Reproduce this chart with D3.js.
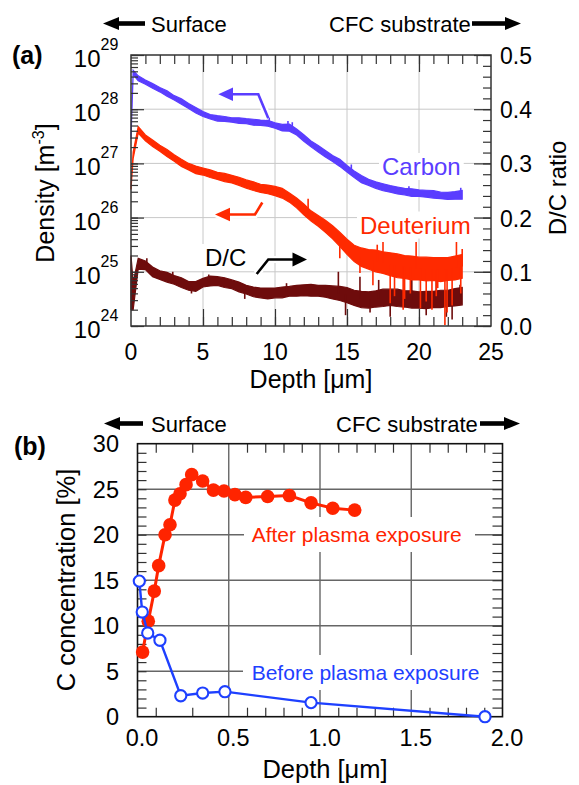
<!DOCTYPE html>
<html><head><meta charset="utf-8">
<script src="https://cdn.jsdelivr.net/npm/d3@7/dist/d3.min.js"></script>
<style>body{margin:0;background:#fff}</style>
</head><body><svg id="c" width="579" height="785"></svg>
<script>
// ---------- Panel (a) data ----------
const depthA = [0, 0.15, 0.5,
  1, 1.5, 2, 2.5, 3, 3.5, 4, 4.5,
  5, 5.5, 6, 6.5, 7, 7.5, 8, 8.5,
  9, 9.5, 10, 10.5, 11, 11.5, 12, 12.5,
  13, 13.5, 14, 14.5, 15, 15.5, 16, 16.5,
  17, 17.5, 18, 18.5, 19, 19.5, 20, 20.5,
  21, 21.5, 22, 22.5, 23];
// log10 of carbon density [m^-3]
const carbonLog = [27.47, 28.68, 28.57,
  28.50, 28.43, 28.36, 28.29, 28.21, 28.14, 28.06, 27.98,
  27.91, 27.86, 27.83, 27.82, 27.80, 27.79, 27.78, 27.76,
  27.75, 27.74, 27.70, 27.66, 27.66, 27.58, 27.47, 27.36,
  27.27, 27.18, 27.09, 27.01, 26.90, 26.80, 26.71, 26.65,
  26.60, 26.56, 26.53, 26.50, 26.48, 26.46, 26.45, 26.44,
  26.43, 26.41, 26.40, 26.41, 26.42];
const carbonSpread = [0.02, 0.04, 0.045,
  0.04, 0.045, 0.04, 0.05, 0.04, 0.05, 0.045, 0.05,
  0.045, 0.04, 0.05, 0.045, 0.04, 0.05, 0.045, 0.055,
  0.05, 0.055, 0.05, 0.06, 0.065, 0.055, 0.06, 0.055,
  0.06, 0.06, 0.055, 0.065, 0.06, 0.06, 0.065, 0.055,
  0.06, 0.065, 0.06, 0.065, 0.06, 0.07, 0.06, 0.065,
  0.07, 0.06, 0.065, 0.07, 0.08];
const carbonSpikes = [[9.6, 27.86], [10.9, 27.78], [11.2, 27.76], [15.3, 26.98], [19.3, 26.58], [22.9, 26.55]];
// log10 of deuterium density [m^-3]
const deutLog = [26.55, 27.15, 27.62,
  27.47, 27.37, 27.28, 27.19, 27.10, 27.01, 26.94, 26.88,
  26.85, 26.81, 26.77, 26.74, 26.71, 26.67, 26.62, 26.58,
  26.54, 26.52, 26.49, 26.45, 26.37, 26.27, 26.15, 26.03,
  25.94, 25.84, 25.73, 25.60, 25.46, 25.34, 25.27, 25.23,
  25.20, 25.17, 25.14, 25.11, 25.09, 25.07, 25.06, 25.05,
  25.05, 25.04, 25.05, 25.07, 25.10];
const deutSpread = [0.03, 0.06, 0.06,
  0.055, 0.06, 0.055, 0.065, 0.06, 0.065, 0.06, 0.07,
  0.065, 0.07, 0.065, 0.075, 0.07, 0.075, 0.075, 0.08,
  0.075, 0.08, 0.085, 0.09, 0.085, 0.09, 0.1, 0.095,
  0.1, 0.11, 0.12, 0.13, 0.14, 0.15, 0.17, 0.18,
  0.2, 0.2, 0.21, 0.22, 0.21, 0.22, 0.21, 0.22,
  0.21, 0.22, 0.21, 0.22, 0.22];
const deutSpikes = [[12.3, 26.35], [14.3, 25.72], [14.5, 25.25], [15.9, 24.98], [16.8, 24.75], [17.1, 25.5],
  [17.5, 25.55], [18.0, 24.42], [18.3, 24.55], [18.9, 24.30], [19.0, 24.5], [19.4, 24.6], [19.8, 25.55],
  [20.1, 24.33], [20.5, 24.45], [20.9, 24.30], [21.2, 24.55], [21.3, 24.7], [21.8, 24.02], [21.95, 24.25],
  [22.3, 24.38], [22.6, 25.55], [22.9, 24.6], [23.0, 25.42]];
// D/C ratio
const dcRatio = [0.080, 0.055, 0.115,
  0.112, 0.100, 0.094, 0.090, 0.085, 0.080, 0.074, 0.073,
  0.080, 0.083, 0.083, 0.080, 0.077, 0.072, 0.067, 0.063,
  0.061, 0.060, 0.061, 0.062, 0.064, 0.065, 0.066, 0.066,
  0.065, 0.064, 0.062, 0.060, 0.057, 0.052, 0.049, 0.048,
  0.050, 0.052, 0.053, 0.052, 0.050, 0.049, 0.048, 0.048,
  0.049, 0.050, 0.051, 0.053, 0.055];
const dcSpread = [0.05, 0.025, 0.01,
  0.008, 0.009, 0.008, 0.009, 0.008, 0.009, 0.008, 0.009,
  0.008, 0.009, 0.008, 0.009, 0.008, 0.009, 0.008, 0.009,
  0.009, 0.01, 0.009, 0.01, 0.009, 0.01, 0.01, 0.011,
  0.01, 0.011, 0.012, 0.013, 0.014, 0.014, 0.015, 0.015,
  0.015, 0.016, 0.015, 0.016, 0.015, 0.016, 0.015, 0.016,
  0.015, 0.016, 0.015, 0.016, 0.016];
const dcSpikes = [[1.1, 0.125], [2.9, 0.100], [4.2, 0.060], [5.4, 0.095], [7.9, 0.050], [10.8, 0.079],
  [14.4, 0.100], [14.9, 0.020], [15.9, 0.091], [16.6, 0.025], [17.2, 0.085],
  [18.0, 0.017], [19.5, 0.085], [20.5, 0.020], [21.2, 0.088], [21.9, 0.017], [22.3, 0.012], [22.85, 0.076]];

const xTicksA = [0, 5, 10, 15, 20, 25];
const yExpA = [24, 25, 26, 27, 28, 29];
const rTicks = [0, 0.1, 0.2, 0.3, 0.4, 0.5];
const rTickLabels = ["0.0", "0.1", "0.2", "0.3", "0.4", "0.5"];

// ---------- Panel (b) data ----------
const afterDepth = [0.028, 0.059, 0.092, 0.116, 0.151, 0.178, 0.205, 0.233, 0.266, 0.297,
  0.357, 0.416, 0.474, 0.534, 0.593, 0.713, 0.832, 0.951, 1.07, 1.19];
const afterConc = [7.1, 10.5, 13.8, 16.6, 20.0, 21.1, 23.8, 24.5, 25.5, 26.6,
  25.9, 24.9, 24.8, 24.4, 24.1, 24.2, 24.3, 23.5, 22.9, 22.7];
const beforeDepth = [0.01, 0.026, 0.056, 0.123, 0.237, 0.357, 0.479, 0.951, 1.904];
const beforeConc = [14.9, 11.5, 9.2, 8.4, 2.3, 2.6, 2.75, 1.55, 0.0];
const xTicksB = [0, 0.5, 1.0, 1.5, 2.0];
const xTickLabelsB = ["0.0", "0.5", "1.0", "1.5", "2.0"];
const xMinorB = [0.1, 0.3, 0.6, 0.7, 0.8, 0.9, 1.1, 1.2, 1.3, 1.4, 1.6, 1.7, 1.8, 1.9];
const yTicksB = [0, 5, 10, 15, 20, 25, 30];

// ---------- styles ----------
const FF = "'Liberation Sans', Arial, Helvetica, sans-serif";
const C_CARBON = "#5a3dff", C_DEUT = "#ff2a00", C_DC = "#6e0c0c";
const C_AFTER = "#ff2400", C_BEFORE = "#1e40ff";

const svg = d3.select("#c");
svg.append("rect").attr("width", 579).attr("height", 785).attr("fill", "#fff");

function text(g, x, y, s, size, opt = {}) {
  const t = g.append("text").attr("x", x).attr("y", y).text(s)
    .attr("font-family", FF).attr("font-size", size)
    .attr("fill", opt.color || "#000")
    .attr("text-anchor", opt.anchor || "start");
  if (opt.weight) t.attr("font-weight", opt.weight);
  return t;
}
function boxedText(g, x, y, s, size, color, px, py) {
  const t = text(g, x, y, s, size, {color});
  const bb = t.node().getBBox();
  g.insert("rect", () => t.node()).attr("x", bb.x - px).attr("y", bb.y - py)
    .attr("width", bb.width + 2 * px).attr("height", bb.height + 2 * py).attr("fill", "#fff");
  return t;
}
function bigArrow(g, x0, x1, y, dir) {
  const head = 16, hh = 6.5, th = 4.6;
  if (dir < 0) {
    g.append("path").attr("d", `M${x0},${y} L${x0 + head},${y - hh} L${x0 + head},${y + hh} Z`).attr("fill", "#000");
    g.append("rect").attr("x", x0 + head - 1).attr("y", y - th / 2).attr("width", x1 - x0 - head + 1).attr("height", th).attr("fill", "#000");
  } else {
    g.append("path").attr("d", `M${x1},${y} L${x1 - head},${y - hh} L${x1 - head},${y + hh} Z`).attr("fill", "#000");
    g.append("rect").attr("x", x0).attr("y", y - th / 2).attr("width", x1 - x0 - head + 1).attr("height", th).attr("fill", "#000");
  }
}
function annArrow(g, shaft, tip, baseX, hh, color) {
  const line = d3.line();
  const headD = `M${tip[0]},${tip[1]} L${baseX},${tip[1] - hh} L${baseX},${tip[1] + hh} Z`;
  g.append("path").attr("d", line(shaft)).attr("fill", "none").attr("stroke", "#fff").attr("stroke-width", 7);
  g.append("path").attr("d", headD).attr("fill", "#fff").attr("stroke", "#fff").attr("stroke-width", 5);
  g.append("path").attr("d", line(shaft)).attr("fill", "none").attr("stroke", color).attr("stroke-width", 2.6).attr("stroke-linejoin", "miter");
  g.append("path").attr("d", headD).attr("fill", color);
}
function cleanAxis(sel) {
  sel.select(".domain").remove();
  sel.selectAll(".tick line").attr("stroke", "#333").attr("stroke-width", 1.2);
  sel.selectAll(".tick text").remove();
}

// ================= Panel (a) =================
const xA = d3.scaleLinear().domain([0, 25]).range([131, 491]);
const yA = d3.scaleLog().domain([1e24, 1e29]).range([326, 55]);
const yR = d3.scaleLinear().domain([0, 0.5]).range([326, 55]);
const gA = svg.append("g");

bigArrow(gA, 103, 145, 23.5, -1);
text(gA, 151, 31.5, "Surface", 22);
text(gA, 329, 31.5, "CFC substrate", 22);
bigArrow(gA, 472, 521, 23.5, 1);
text(gA, 12, 64, "(a)", 25, {weight: "bold"});

// grid
gA.selectAll("line.vgA").data(xTicksA.slice(1, -1)).join("line").attr("class", "vgA")
  .attr("x1", d => xA(d)).attr("x2", d => xA(d)).attr("y1", yA(1e29)).attr("y2", yA(1e24))
  .attr("stroke", "#c8c8c8").attr("stroke-width", 1);
gA.selectAll("line.hgA").data(yExpA.slice(1, -1)).join("line").attr("class", "hgA")
  .attr("x1", xA(0)).attr("x2", xA(25)).attr("y1", d => yA(Math.pow(10, d))).attr("y2", d => yA(Math.pow(10, d)))
  .attr("stroke", "#c8c8c8").attr("stroke-width", 1);

const labA = gA.append("g");
boxedText(labA, 382, 175, "Carbon", 24, C_CARBON, 3, 0);
boxedText(labA, 360, 233.5, "Deuterium", 24, C_DEUT, 3, 0);
boxedText(labA, 205, 266, "D/C", 24, "#000", 3, 0);

const rowsC = depthA.map((d, i) => ({x: d, c: carbonLog[i], s: carbonSpread[i]}));
const rowsD = depthA.map((d, i) => ({x: d, c: deutLog[i], s: deutSpread[i]}));
const rowsR = depthA.map((d, i) => ({x: d, c: dcRatio[i], s: dcSpread[i]}));
const areaLog = d3.area().x(d => xA(d.x))
  .y0(d => yA(Math.pow(10, d.c - d.s))).y1(d => yA(Math.pow(10, d.c + d.s)));
const areaLin = d3.area().x(d => xA(d.x))
  .y0(d => yR(d.c - d.s)).y1(d => yR(d.c + d.s));

const dataA = gA.append("g");
// D/C
dataA.append("path").datum(rowsR).attr("d", areaLin).attr("fill", C_DC).attr("stroke", C_DC).attr("stroke-width", 1.2);
const dcCenter = d3.scaleLinear().domain(depthA).range(dcRatio);
dataA.selectAll("line.dcs").data(dcSpikes).join("line").attr("class", "dcs")
  .attr("x1", d => xA(d[0])).attr("x2", d => xA(d[0]))
  .attr("y1", d => yR(dcCenter(d[0]))).attr("y2", d => yR(d[1]))
  .attr("stroke", C_DC).attr("stroke-width", 1.6);
// Deuterium
dataA.append("path").datum(rowsD).attr("d", areaLog).attr("fill", C_DEUT).attr("stroke", C_DEUT).attr("stroke-width", 1.2);
const deutCenter = d3.scaleLinear().domain(depthA).range(deutLog);
dataA.selectAll("line.ds").data(deutSpikes).join("line").attr("class", "ds")
  .attr("x1", d => xA(d[0])).attr("x2", d => xA(d[0]))
  .attr("y1", d => yA(Math.pow(10, deutCenter(d[0])))).attr("y2", d => yA(Math.pow(10, d[1])))
  .attr("stroke", C_DEUT).attr("stroke-width", 1.6);
// Carbon
dataA.append("path").datum(rowsC).attr("d", areaLog).attr("fill", C_CARBON).attr("stroke", C_CARBON).attr("stroke-width", 1.2);
const carbonCenter = d3.scaleLinear().domain(depthA).range(carbonLog);
dataA.selectAll("line.cs").data(carbonSpikes).join("line").attr("class", "cs")
  .attr("x1", d => xA(d[0])).attr("x2", d => xA(d[0]))
  .attr("y1", d => yA(Math.pow(10, carbonCenter(d[0])))).attr("y2", d => yA(Math.pow(10, d[1])))
  .attr("stroke", C_CARBON).attr("stroke-width", 1.6);

annArrow(gA, [[232, 94.3], [258.3, 94.3], [268.3, 118.3]], [218.3, 94.3], 233, 6.7, C_CARBON);
annArrow(gA, [[229, 214.5], [255, 214.5], [262.3, 202.5]], [215, 214.5], 230, 6.7, C_DEUT);
annArrow(gA, [[256.7, 274], [268.3, 259.5], [294, 259.5]], [307, 259.5], 292.5, 7, "#000");

gA.append("rect").attr("x", xA(0)).attr("y", yA(1e29)).attr("width", xA(25) - xA(0)).attr("height", yA(1e24) - yA(1e29))
  .attr("fill", "none").attr("stroke", "#333").attr("stroke-width", 1.5);
const minorX = d3.range(1, 25);
gA.append("g").attr("transform", `translate(0,${yA(1e24)})`).call(d3.axisBottom(xA).tickValues(minorX).tickSize(-9)).call(cleanAxis);
gA.append("g").attr("transform", `translate(0,${yA(1e29)})`).call(d3.axisTop(xA).tickValues(minorX).tickSize(-9)).call(cleanAxis);
gA.append("g").attr("transform", `translate(0,${yA(1e24)})`).call(d3.axisBottom(xA).tickValues(xTicksA.slice(1, -1)).tickSize(-17)).call(cleanAxis);
gA.append("g").attr("transform", `translate(0,${yA(1e29)})`).call(d3.axisTop(xA).tickValues(xTicksA.slice(1, -1)).tickSize(-17)).call(cleanAxis);
gA.append("g").attr("transform", `translate(${xA(0)},0)`).call(d3.axisLeft(yA).tickValues(yA.ticks()).tickSize(-7)).call(cleanAxis);
gA.append("g").attr("transform", `translate(${xA(0)},0)`).call(d3.axisLeft(yA).tickValues(yExpA.map(e => Math.pow(10, e))).tickSize(-13)).call(cleanAxis);
const rMinor = d3.range(0, 51, 2).map(v => v / 100);
gA.append("g").attr("transform", `translate(${xA(25)},0)`).call(d3.axisRight(yR).tickValues(rMinor).tickSize(-8)).call(cleanAxis);
gA.append("g").attr("transform", `translate(${xA(25)},0)`).call(d3.axisRight(yR).tickValues(rTicks).tickSize(-17)).call(cleanAxis);

xTicksA.forEach(v => text(gA, xA(v), 359.5, String(v), 23, {anchor: "middle"}));
yExpA.forEach(e => {
  const y = yA(Math.pow(10, e));
  text(gA, 100.5, y + 12, "10", 24, {anchor: "end"});
  text(gA, 100.5, y - 5, String(e), 16);
});
rTicks.forEach((v, i) => text(gA, 500, yR(v) + 9, rTickLabels[i], 23));

text(gA, 311, 388, "Depth [μm]", 25, {anchor: "middle"});
const tDen = gA.append("text").attr("transform", "translate(54,193) rotate(-90)")
  .attr("font-family", FF).attr("font-size", 25).attr("text-anchor", "middle");
tDen.append("tspan").text("Density [m");
tDen.append("tspan").attr("font-size", 16).attr("dy", -10).text("-3");
tDen.append("tspan").attr("dy", 10).text("]");
text(gA, 0, 0, "D/C ratio", 24, {anchor: "middle"}).attr("x", null).attr("y", null)
  .attr("transform", "translate(566,188) rotate(-90)");

// ================= Panel (b) =================
const xB = d3.scaleLinear().domain([0, 2]).range([137.5, 502.5]);
const yB = d3.scaleLinear().domain([0, 30]).range([716.7, 443.7]);
const gB = svg.append("g");

bigArrow(gB, 104, 143, 423.5, -1);
text(gB, 151, 431.5, "Surface", 22);
text(gB, 336, 431.5, "CFC substrate", 22);
bigArrow(gB, 480, 520, 423.5, 1);
text(gB, 14, 455, "(b)", 25, {weight: "bold"});

gB.selectAll("line.vgB").data(xTicksB.slice(1, -1)).join("line").attr("class", "vgB")
  .attr("x1", d => xB(d)).attr("x2", d => xB(d)).attr("y1", yB(30)).attr("y2", yB(0))
  .attr("stroke", "#666").attr("stroke-width", 1.4);
gB.selectAll("line.hgB").data(yTicksB.slice(1, -1)).join("line").attr("class", "hgB")
  .attr("x1", xB(0)).attr("x2", xB(2)).attr("y1", d => yB(d)).attr("y2", d => yB(d))
  .attr("stroke", "#666").attr("stroke-width", 1.4);

const labB = gB.append("g");
labB.append("rect").attr("x", 244).attr("y", 517).attr("width", 231).attr("height", 35).attr("fill", "#fff");
text(labB, 251.7, 541.5, "After plasma exposure", 21, {color: C_AFTER});
labB.append("rect").attr("x", 243).attr("y", 655).attr("width", 259).attr("height", 35).attr("fill", "#fff");
text(labB, 251.7, 680, "Before plasma exposure", 21, {color: C_BEFORE});

gB.append("g").attr("transform", `translate(0,${yB(0)})`).call(d3.axisBottom(xB).tickValues(xMinorB).tickSize(-9)).call(cleanAxis);
gB.append("g").attr("transform", `translate(0,${yB(30)})`).call(d3.axisTop(xB).tickValues(xMinorB).tickSize(-9)).call(cleanAxis);
const yMinorB = d3.range(1, 30);
gB.append("g").attr("transform", `translate(${xB(0)},0)`).call(d3.axisLeft(yB).tickValues(yMinorB).tickSize(-9)).call(cleanAxis);
gB.append("g").attr("transform", `translate(${xB(2)},0)`).call(d3.axisRight(yB).tickValues(yMinorB).tickSize(-10)).call(cleanAxis);
gB.append("rect").attr("x", xB(0)).attr("y", yB(30)).attr("width", xB(2) - xB(0)).attr("height", yB(0) - yB(30))
  .attr("fill", "none").attr("stroke", "#111").attr("stroke-width", 1.6);

const after = afterDepth.map((d, i) => [d, afterConc[i]]);
const before = beforeDepth.map((d, i) => [d, beforeConc[i]]);
const lineB = d3.line().x(d => xB(d[0])).y(d => yB(d[1]));
gB.append("path").datum(after).attr("d", lineB).attr("fill", "none").attr("stroke", C_AFTER).attr("stroke-width", 3);
gB.selectAll("circle.af").data(after).join("circle").attr("class", "af")
  .attr("cx", d => xB(d[0])).attr("cy", d => yB(d[1])).attr("r", 6.8).attr("fill", C_AFTER);
gB.append("path").datum(before).attr("d", lineB).attr("fill", "none").attr("stroke", C_BEFORE).attr("stroke-width", 2.4);
gB.selectAll("circle.bf").data(before).join("circle").attr("class", "bf")
  .attr("cx", d => xB(d[0])).attr("cy", d => yB(d[1])).attr("r", 5.6)
  .attr("fill", "#fff").attr("stroke", C_BEFORE).attr("stroke-width", 2.1);

xTicksB.forEach((v, i) => text(gB, xB(v) + 4.5, 746, xTickLabelsB[i], 23.5, {anchor: "middle"}));
yTicksB.forEach(v => text(gB, 119, yB(v) + 8.5, String(v), 23.5, {anchor: "end"}));

text(gB, 325, 778, "Depth [μm]", 25.5, {anchor: "middle"});
text(gB, 0, 0, "C concentration [%]", 25.5, {anchor: "middle"}).attr("x", null).attr("y", null)
  .attr("transform", "translate(75,580) rotate(-90)");
</script></body></html>
